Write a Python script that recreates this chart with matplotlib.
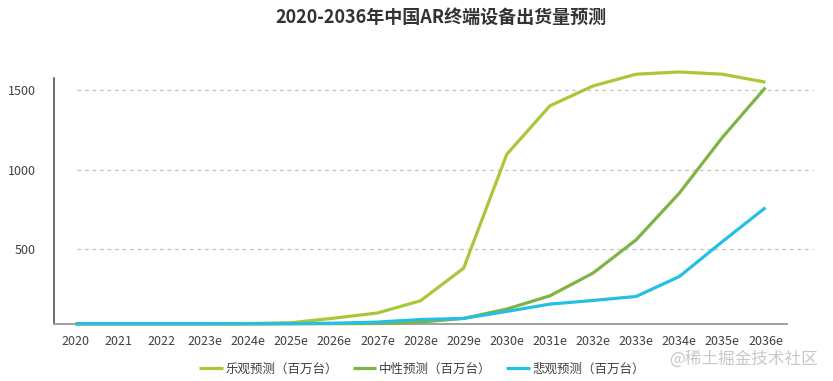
import matplotlib
matplotlib.use("Agg")
import matplotlib.pyplot as plt

plt.rcParams['font.family'] = ['Noto Sans CJK SC', 'DejaVu Sans']

years = ['2020', '2021', '2022', '2023e', '2024e', '2025e', '2026e', '2027e', '2028e',
         '2029e', '2030e', '2031e', '2032e', '2033e', '2034e', '2035e', '2036e']

# 百万台
optimistic = [32, 32, 32, 32, 33, 38, 67, 99, 176, 381, 1097, 1402, 1527, 1601, 1615, 1601, 1551]
neutral = [30, 30, 30, 30, 30, 31, 32, 33, 42, 65, 124, 207, 350, 559, 852, 1203, 1517]
pessimistic = [32, 32, 32, 32, 32, 33, 35, 42, 58, 65, 109, 155, 178, 203, 328, 548, 762]

series_names = ['乐观预测（百万台）', '中性预测（百万台）', '悲观预测（百万台）']
colors = ['#a8c83a', '#7db444', '#25bfe4']

yticks = [500, 1000, 1500]

fig = plt.figure(figsize=(8.33, 3.81), dpi=100)
ax = fig.add_axes([0.0648, 0.1488, 0.88, 0.646])

x = list(range(len(years)))
for vals, name, c in zip([optimistic, neutral, pessimistic], series_names, colors):
    ax.plot(x, vals, color=c, lw=2.3, label=name, clip_on=False, zorder=3,
            solid_capstyle='butt')

for y in yticks:
    ax.axhline(y, xmin=0.031, xmax=1.035, color='#c4c4c4', lw=0.9,
               ls=(0, (3, 3)), clip_on=False, zorder=1)

ax.set_xlim(-0.5, 16.5)
ax.set_ylim(28, 1576)
ax.set_xticks(x)
ax.set_xticklabels(years)
ax.set_yticks(yticks)
ax.tick_params(axis='both', length=0, labelsize=9, labelcolor='#404040')
ax.tick_params(axis='x', pad=8)
ax.tick_params(axis='y', pad=13)

for s in ['top', 'right']:
    ax.spines[s].set_visible(False)
ax.spines['left'].set_color('#444444')
ax.spines['left'].set_linewidth(1.1)
ax.spines['bottom'].set_color('#a0a0a0')
ax.spines['bottom'].set_linewidth(1.4)

fig.text(441 / 833, 1 - 17 / 381, '2020-2036年中国AR终端设备出货量预测',
         ha='center', va='center', fontsize=13, fontweight='bold', color='#333333')

leg = fig.legend(loc='center', bbox_to_anchor=(422 / 833, 1 - 369 / 381), ncol=3,
                 frameon=False, fontsize=9, handlelength=1.9, handletextpad=0.2,
                 columnspacing=1.2)
for t in leg.get_texts():
    t.set_color('#404040')

fig.text(818 / 833, 1 - 359 / 381, '@稀土掘金技术社区', ha='right', va='center',
         fontsize=12, color='#c8c8c8')

fig.savefig('out.png', dpi=100)
